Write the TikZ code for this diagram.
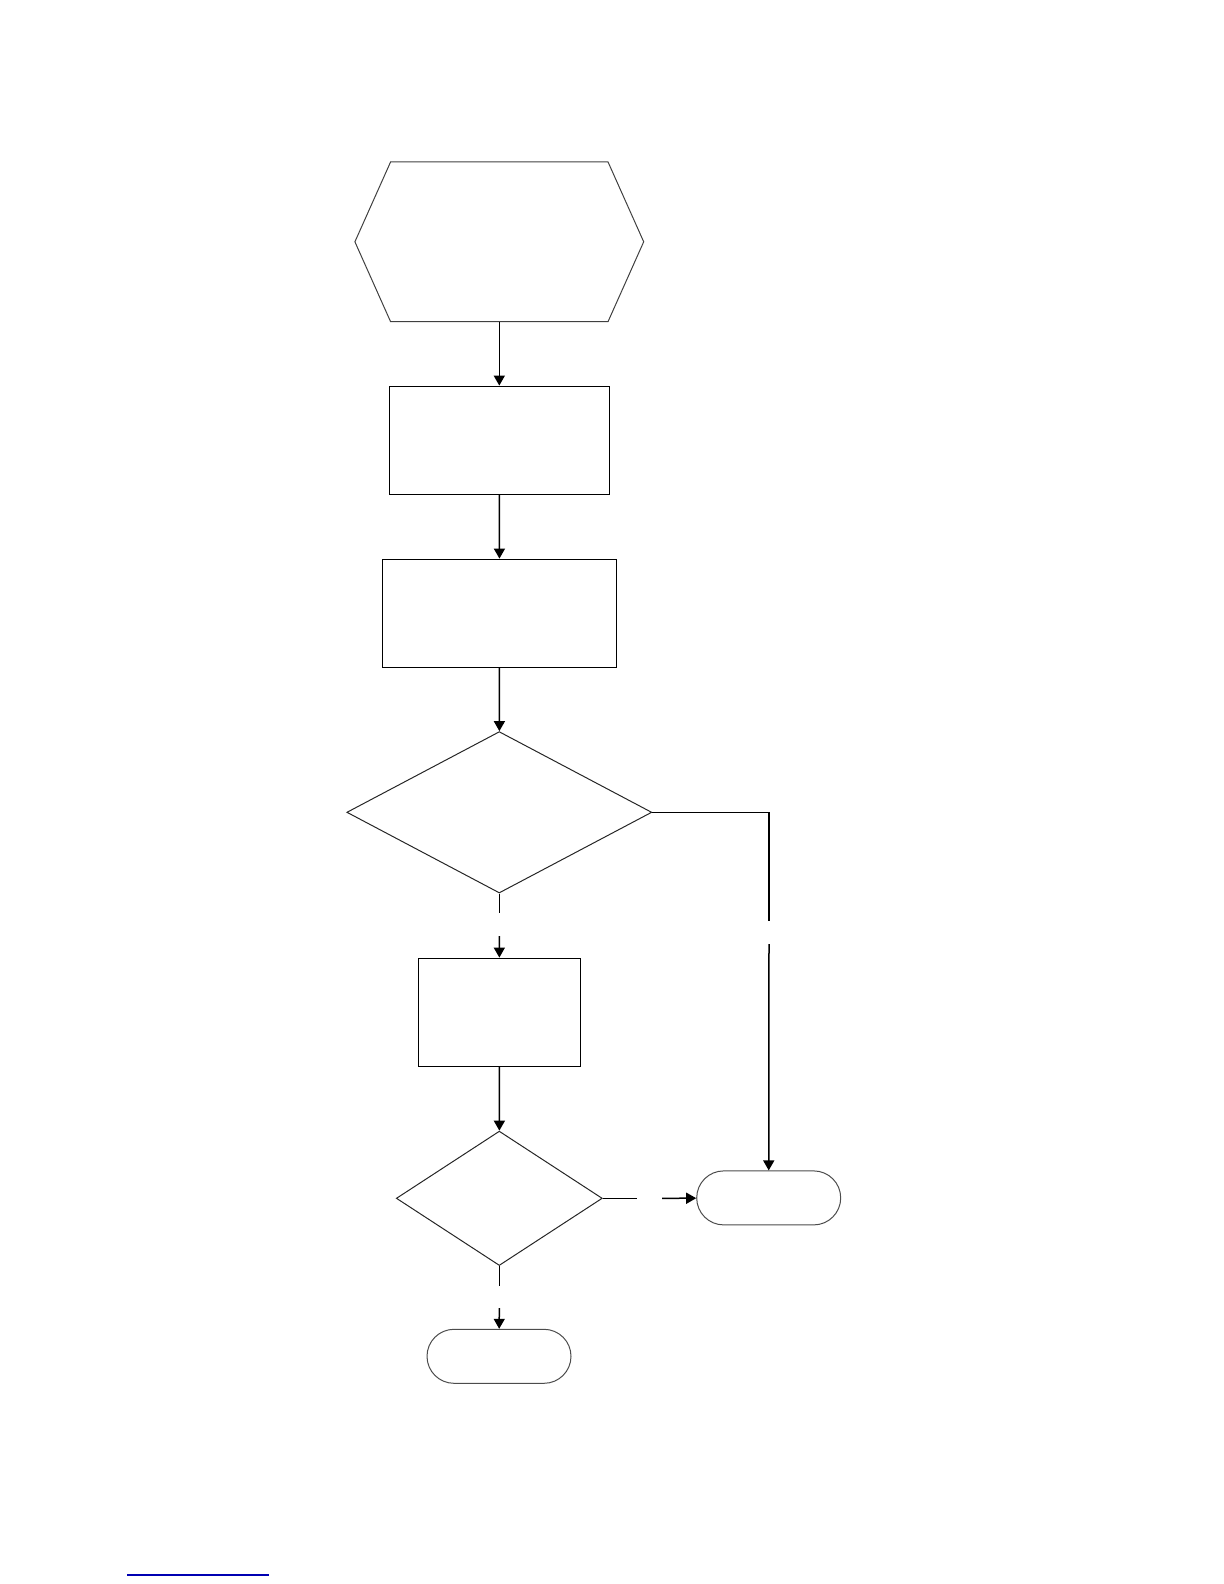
\documentclass[tikz,border=0pt]{standalone}
\usepackage{tikz}
\usetikzlibrary{arrows.meta,shapes.geometric,shapes.misc}

\tikzset{
  procbox/.style={draw,line width=0.6pt,minimum width=#1,minimum height=54pt,inner sep=0pt},
  decbox/.style={diamond,draw=black!85,line width=0.5pt,inner sep=0pt},
  termbox/.style={rounded rectangle,draw=black!70,line width=0.5pt,minimum width=72pt,minimum height=27pt,inner sep=0pt},
  flow/.style={line width=0.75pt},
  flowto/.style={line width=0.75pt,-{Triangle[width=5.5pt,length=5pt]}}
}

\begin{document}
\begin{tikzpicture}[x=0.5pt,y=-0.5pt]
  % page frame, one unit = one pixel of the 1224 x 1584 sheet
  \path[use as bounding box] (0,0) rectangle (1224,1584);

  % hexagon at the top
  \node[minimum width=144pt,minimum height=79.5pt,inner sep=0pt] (start) at (499.3,241.8) {};
  \draw[black!75,line width=0.5pt] ([xshift=17.85pt]start.north west) -- ([xshift=-17.85pt]start.north east)
    -- (start.east) -- ([xshift=-17.85pt]start.south east) -- ([xshift=17.85pt]start.south west)
    -- (start.west) -- cycle;

  % main column
  \node[procbox=110pt] (read) at (499.3,440.2) {};
  \node[procbox=117.2pt] (prep) at (499.5,613.2) {};
  \node[decbox,minimum width=152.5pt,minimum height=80.7pt] (check) at (499.3,812.3) {};
  \node[procbox=81.2pt] (work) at (499.5,1012.2) {};
  \node[decbox,minimum width=103pt,minimum height=67.2pt] (again) at (499.3,1198.3) {};
  \node[termbox] (stopA) at (499,1356.3) {};
  \node[termbox] (stopB) at (768.7,1197.9) {};

  % label gaps
  \coordinate (g1a) at (499.3,913.3);
  \coordinate (g1b) at (499.3,936);
  \coordinate (g2a) at (769,920.7);
  \coordinate (g2b) at (769,944);
  \coordinate (g3a) at (636.7,1198.3);
  \coordinate (g3b) at (662,1198.3);
  \coordinate (g4a) at (499.3,1285.7);
  \coordinate (g4b) at (499.3,1308);

  % connectors
  \draw[flowto] (start) -- (read);
  \draw[flowto] (read) -- (prep);
  \draw[flowto] (prep) -- (check);
  \draw[flow] (check.south) -- (g1a);
  \draw[flowto] (g1b) -- (work);
  \draw[flow] (check.east) -| (g2a);
  \draw[flowto] (g2b) -- (stopB);
  \draw[flowto] (work) -- (again);
  \draw[flow] (again.east) -- (g3a);
  \draw[flowto] (g3b) -- (stopB);
  \draw[flow] (again.south) -- (g4a);
  \draw[flowto] (g4b) -- (stopA);

  % link underline at the foot of the page
  \draw[blue!70!black,line width=0.6pt] (127.3,1575) -- (269,1575);
\end{tikzpicture}
\end{document}
